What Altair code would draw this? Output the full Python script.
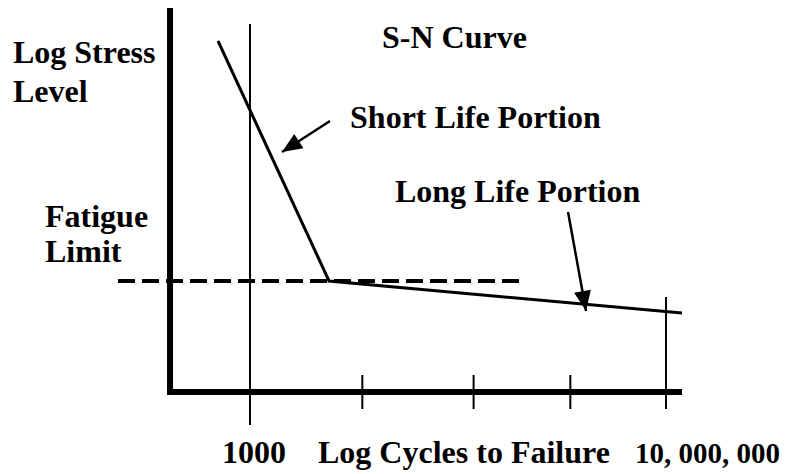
import math
import altair as alt
import pandas as pd

# ---- data (log cycles on x, schematic log stress on y) ----
curve_x = [2.692, 3.760, 7.154]          # short-life start, knee, long-life end
curve_y = [9.141, 2.891, 2.057]

fatigue_x = [1.731, 5.615]                # dashed fatigue-limit line
fatigue_y = 2.891

minor_tick_x = [4.08, 5.15, 6.08]
minor_tick_y = [0.443, -0.443]
line_1000 = [3.0, 9.583, -0.859]          # x, y top, y bottom
line_1e7 = [7.0, 2.474, -0.443]

axis_y_line = [2.231, 10.0, -0.078]       # x, y top, y bottom
axis_x_line = [2.202, 7.154, 0.0]         # x left, x right, y

arrow_from_x = [3.769, 6.058]
arrow_from_y = [7.057, 4.688]
arrow_tip_x = [3.308, 6.231]
arrow_tip_y = [6.250, 2.109]

label_text = ["Log Stress", "Level", "S-N Curve", "Short Life Portion",
              "Long Life Portion", "Fatigue", "Limit", "1000",
              "Log Cycles to Failure", "10, 000, 000"]
label_x = [0.721, 0.721, 4.269, 3.962, 4.394, 1.029, 1.029, 2.731, 3.654, 6.702]
label_y = [8.568, 7.552, 8.958, 6.875, 4.948, 4.297, 3.385, -1.849, -1.849, -1.849]
label_size = [32, 32, 32, 32, 32, 32, 32, 32, 32, 29]

# ---- scales ----
PX_PER_X = 104.0
PX_PER_Y = 38.4
XS = alt.Scale(domain=[3, 7], range=[242, 658], nice=False, zero=False)
YS = alt.Scale(domain=[0, 10], range=[384, 0], nice=False, zero=False)


def X(f="x"):
    return alt.X(f"{f}:Q", scale=XS, axis=None)


def Y(f="y"):
    return alt.Y(f"{f}:Q", scale=YS, axis=None)


thin_rules = pd.DataFrame(
    [{"x": x, "y": minor_tick_y[0], "y2": minor_tick_y[1]} for x in minor_tick_x]
    + [{"x": line_1000[0], "y": line_1000[1], "y2": line_1000[2]},
       {"x": line_1e7[0], "y": line_1e7[1], "y2": line_1e7[2]}]
)
thin = alt.Chart(thin_rules).mark_rule(color="black", strokeWidth=2).encode(
    x=X(), y=Y(), y2="y2:Q")

frame_df = pd.DataFrame([
    {"x": axis_y_line[0], "x2": axis_y_line[0], "y": axis_y_line[1], "y2": axis_y_line[2]},
    {"x": axis_x_line[0], "x2": axis_x_line[1], "y": axis_x_line[2], "y2": axis_x_line[2]},
])
frame = alt.Chart(frame_df).mark_rule(color="black", strokeWidth=6).encode(
    x=X(), x2="x2:Q", y=Y(), y2="y2:Q")

curve_df = pd.DataFrame({"x": curve_x, "y": curve_y, "o": range(len(curve_x))})
curve = alt.Chart(curve_df).mark_line(color="black", strokeWidth=3).encode(
    x=X(), y=Y(), order="o:Q")

dash_df = pd.DataFrame({"x": [fatigue_x[0]], "x2": [fatigue_x[1]], "y": [fatigue_y]})
dash = alt.Chart(dash_df).mark_rule(color="black", strokeWidth=4,
                                    strokeDash=[17, 7]).encode(
    x=X(), x2="x2:Q", y=Y())

angles = []
for x0, y0, x1, y1 in zip(arrow_from_x, arrow_from_y, arrow_tip_x, arrow_tip_y):
    dx = (x1 - x0) * PX_PER_X
    dy = -(y1 - y0) * PX_PER_Y
    angles.append(math.degrees(math.atan2(dx, -dy)) % 360)

arrow_df = pd.DataFrame({"x": arrow_from_x, "y": arrow_from_y,
                         "x2": arrow_tip_x, "y2": arrow_tip_y, "angle": angles})
shafts = alt.Chart(arrow_df).mark_rule(color="black", strokeWidth=2.5).encode(
    x=X(), x2="x2:Q", y=Y(), y2="y2:Q")
heads = alt.Chart(arrow_df).mark_point(
    shape="M0,0L-0.85,2L0.85,2Z", filled=True, color="black", opacity=1,
    size=400, strokeWidth=0).encode(
    x=X("x2"), y=Y("y2"), angle=alt.Angle("angle:Q", scale=None))

text_df = pd.DataFrame({"t": label_text, "x": label_x, "y": label_y,
                        "s": label_size})
texts = alt.Chart(text_df).mark_text(
    font="Liberation Serif", fontWeight="bold", color="black",
    align="left", baseline="alphabetic").encode(
    x=X(), y=Y(), text="t:N", size=alt.Size("s:Q", scale=None, legend=None))

chart = alt.layer(thin, frame, curve, dash, shafts, heads, texts).properties(
    width=780, height=466, autosize=alt.AutoSizeParams(type="none"), padding=0,
    background="white"
).configure_view(strokeWidth=0)

chart.save("out.html", embed_options={"renderer": "svg", "actions": False})
